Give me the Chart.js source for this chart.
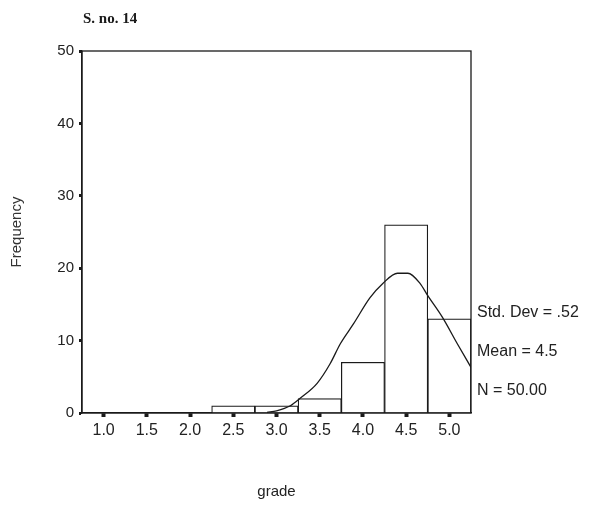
<!DOCTYPE html>
<html><head><meta charset="utf-8">
<script src="https://cdn.jsdelivr.net/npm/chart.js@4/dist/chart.umd.min.js"></script>
<style>html,body{margin:0;padding:0;background:#fff;}canvas{display:block;}</style>
</head><body>
<canvas id="c" width="600" height="506"></canvas>
<script>
const categories = ['1.0','1.5','2.0','2.5','3.0','3.5','4.0','4.5','5.0'];
const frequencies = [0,0,0,1,1,2,7,26,13];
const curveX = [2.89,3.0,3.16,3.27,3.47,3.62,3.74,3.89,4.08,4.23,4.40,4.52,4.66,4.75,4.92,5.09,5.25];
const curveY = [0.1,0.3,1.0,2.0,4.1,6.8,9.6,12.3,15.9,17.9,19.3,19.3,17.9,16.2,13.2,9.6,6.3];
const yTicks = [0,10,20,30,40,50];
const titleText = 'S. no. 14';
const statsLabels = ['Std. Dev = .52','Mean = 4.5','N = 50.00'];

const INK = '#1a1a1a';
const sans = '"Liberation Sans", Arial, sans-serif';

const extras = {
  id: 'extras',
  afterDraw(chart) {
    const {ctx, chartArea: a} = chart;
    ctx.save();
    ctx.strokeStyle = INK; ctx.lineWidth = 1.3;
    ctx.strokeRect(a.left, a.top, a.right - a.left, a.bottom - a.top);
    ctx.fillStyle = INK;
    ctx.font = 'bold 15px "Liberation Serif", "Times New Roman", serif';
    ctx.textBaseline = 'middle'; ctx.textAlign = 'left';
    ctx.fillText(titleText, 83, 19);
    ctx.font = '16px ' + sans;
    ctx.fillStyle = '#222';
    const ys = [313, 352, 391];
    statsLabels.forEach((t, i) => ctx.fillText(t, a.right + 6, ys[i]));
    ctx.restore();
  }
};

new Chart(document.getElementById('c'), {
  data: {
    labels: categories,
    datasets: [
      { type: 'bar', data: frequencies, backgroundColor: '#fff', borderColor: INK, borderWidth: 1.2,
        barPercentage: 1, categoryPercentage: 1, grouped: false, xAxisID: 'x', yAxisID: 'y', order: 2 },
      { type: 'line', data: curveX.map((x, i) => ({x, y: curveY[i]})), borderColor: INK, borderWidth: 1.3,
        pointRadius: 0, tension: 0.4, cubicInterpolationMode: 'monotone', fill: false, xAxisID: 'x2', yAxisID: 'y', order: 1 }
    ]
  },
  options: {
    responsive: false, animation: false,
    layout: { padding: { top: 51, right: 129, left: 0, bottom: 0 } },
    plugins: { legend: { display: false }, tooltip: { enabled: false } },
    scales: {
      x: {
        type: 'category', offset: true,
        grid: { display: true, drawOnChartArea: false, offset: false, tickLength: 4, tickWidth: 4, color: INK },
        border: { display: true, color: INK, width: 1.3 },
        ticks: { color: '#222', font: { size: 16, family: sans }, padding: 4, maxRotation: 0 },
        title: { display: true, text: 'grade', color: '#222', font: { size: 15, family: sans }, padding: { top: 4, bottom: 5 } },
        afterFit(s) { s.height = 93; }
      },
      x2: { type: 'linear', display: false, min: 0.75, max: 5.25 },
      y: {
        min: 0, max: 50,
        afterBuildTicks(s) { s.ticks = yTicks.map(v => ({value: v})); },
        grid: { display: true, drawOnChartArea: false, tickLength: 3, tickWidth: 3, color: INK },
        border: { display: true, color: INK, width: 1.3 },
        ticks: { color: '#222', font: { size: 15, family: sans }, padding: 5 },
        title: { display: true, text: 'Frequency', color: '#333', font: { size: 15, family: sans }, padding: { top: 8, bottom: 0 } },
        afterFit(s) { s.width = 82; }
      }
    }
  },
  plugins: [extras]
});
</script>
</body></html>
